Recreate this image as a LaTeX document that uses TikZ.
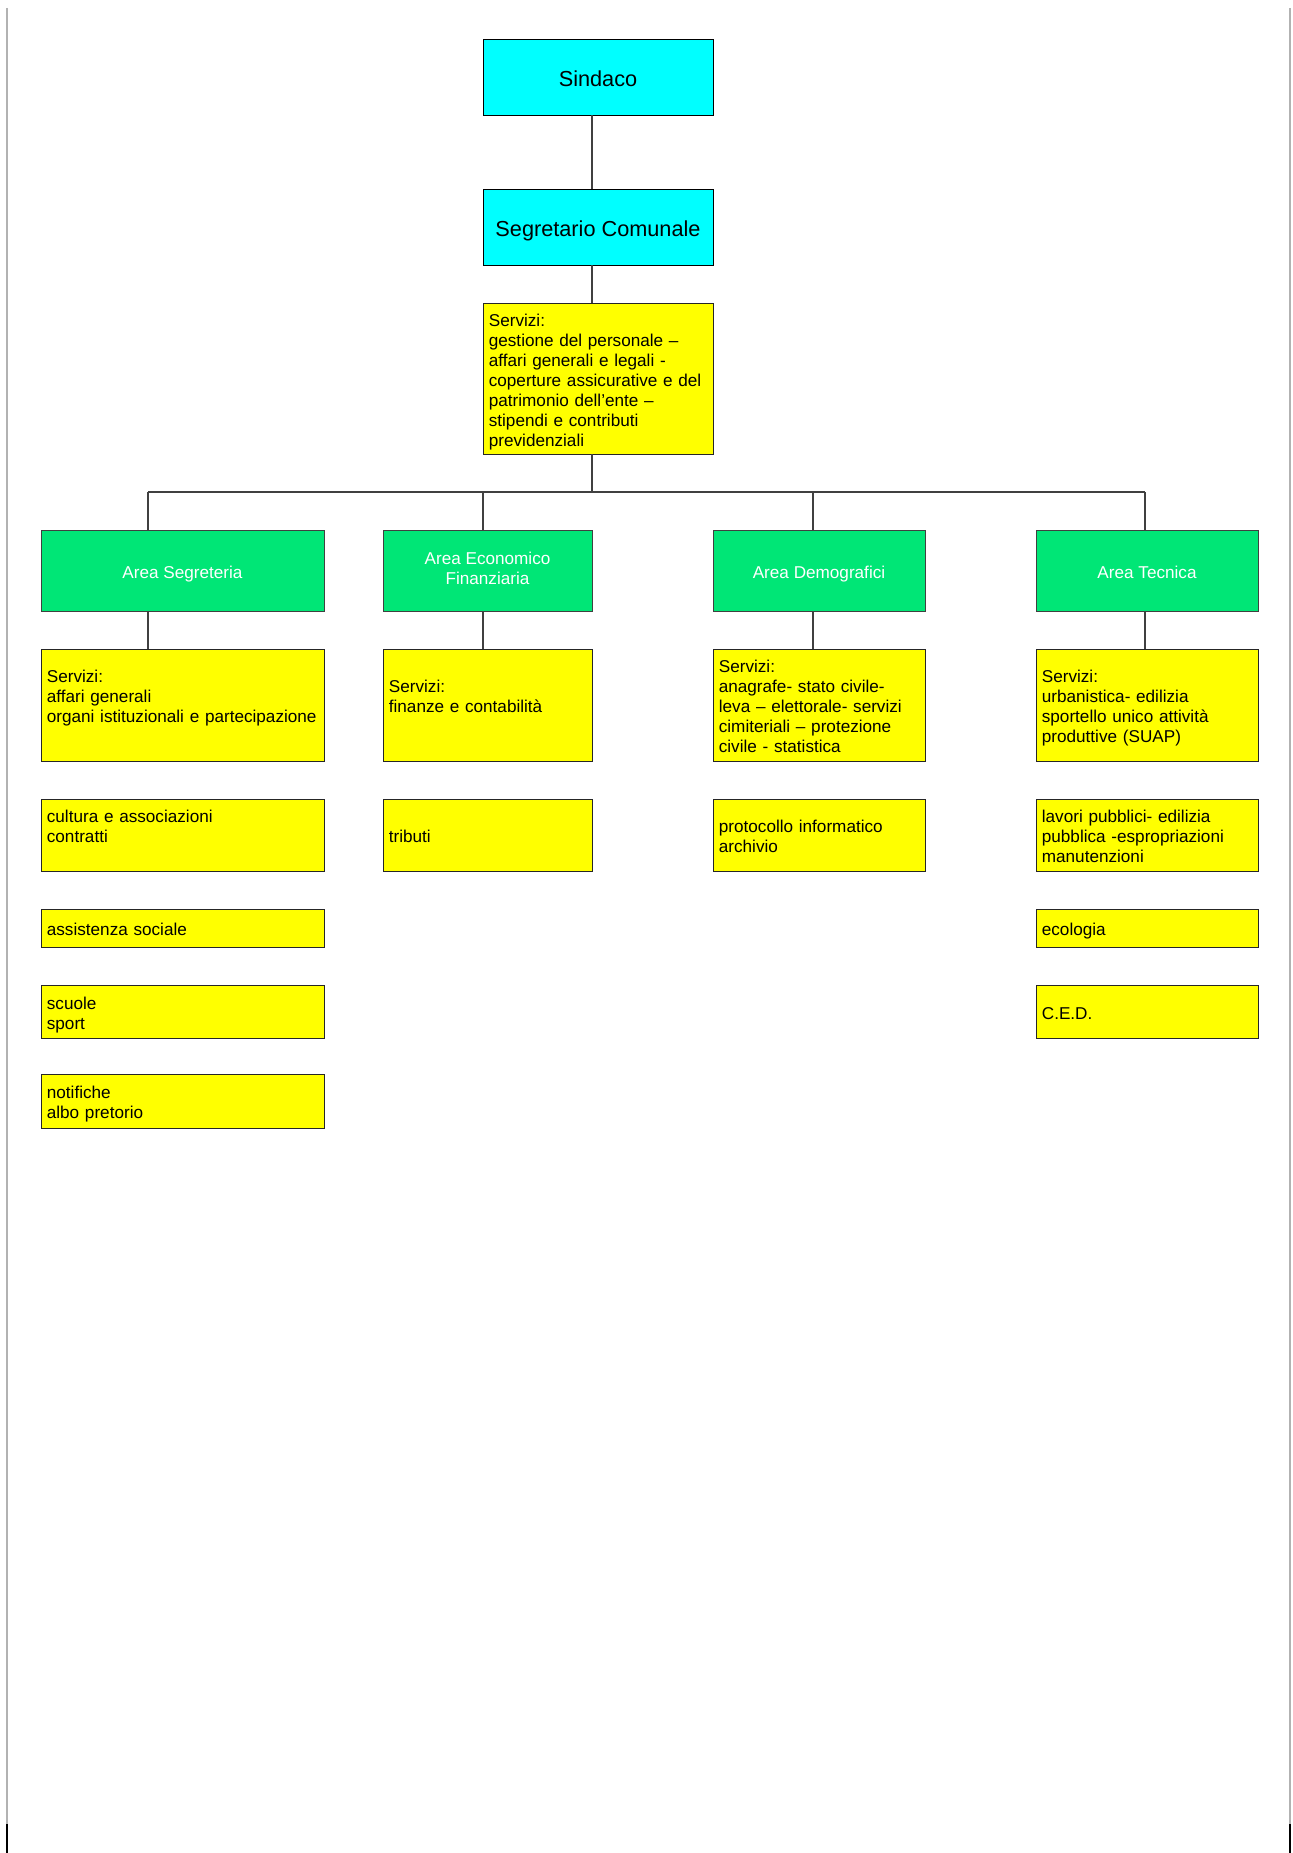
\documentclass[tikz,border=0pt]{standalone}
\usepackage{fontspec}
\setmainfont{Liberation Sans}
\usepackage{tikz}
\definecolor{ciano}{RGB}{0,255,255}
\definecolor{verde}{RGB}{0,230,118}
\definecolor{giallo}{RGB}{255,255,0}
\definecolor{linea}{RGB}{64,64,64}
\newcommand{\appoggiosu}{\rule{0pt}{1.105em}}
\newcommand{\appoggiogiu}{\rule[-0.212em]{0pt}{0pt}}

\begin{document}
\begin{tikzpicture}[x=0.4608pt,y=-0.4608pt,
  capo/.style={draw=black,fill=ciano,minimum width=106pt,minimum height=35pt,inner sep=0pt,font=\fontsize{10}{12}\selectfont,execute at begin node=\appoggiosu,execute at end node=\appoggiogiu},
  area/.style={draw=linea,fill=verde,text=white,align=center,minimum height=37.3pt,inner sep=0pt,font=\fontsize{7.9}{9.2}\selectfont,execute at begin node=\appoggiosu,execute at end node=\appoggiogiu},
  serv/.style={draw=black!85,fill=giallo,align=left,inner xsep=2.7pt,inner ysep=0pt,font=\fontsize{7.9}{9.2}\selectfont,execute at begin node=\appoggiosu,execute at end node=\appoggiogiu},
  conn/.style={draw=linea,line width=0.5pt}]
  \useasboundingbox (0,0) rectangle (1292,1853);
  %page edges
  \draw[gray!60,line width=0.5pt] (7,8) -- (7,1824);
  \draw[gray!60,line width=0.5pt] (1290,8) -- (1290,1824);
  \draw[line width=1pt] (7,1824) -- (7,1853);
  \draw[line width=1pt] (1290,1824) -- (1290,1853);
  %top
  \node[capo,name=sindaco,at={(598,77)}]{Sindaco};
  \node[capo,name=segr,at={(598,227)}]{Segretario Comunale};
  \node[serv,name=servgen,at={(598,378.5)},text width=100.6pt,minimum height=69.6pt]{Servizi:\\gestione del personale --\\affari generali e legali -\\coperture assicurative e del\\patrimonio dell'ente --\\stipendi e contributi\\previdenziali};
  %areas
  \node[area,name=seg,at={(182.5,570.5)},minimum width=130.4pt]{Area Segreteria};
  \node[area,name=eco,at={(487.5,570.5)},minimum width=96.3pt]{Area Economico\\Finanziaria};
  \node[area,name=dem,at={(819,570.5)},minimum width=97.7pt]{Area Demografici};
  \node[area,name=tec,at={(1147,570.5)},minimum width=102.3pt]{Area Tecnica};
  %segreteria
  \node[serv,name=seg1,at={(182.5,705)},text width=125pt,minimum height=51.6pt]{Servizi:\\affari generali\\organi istituzionali e partecipazione\\\mbox{}};
  \node[serv,name=seg2,at={(182.5,835)},text width=125pt,minimum height=33.2pt]{cultura e associazioni\\contratti\\\mbox{}};
  \node[serv,name=seg3,at={(182.5,928)},text width=125pt,minimum height=17.5pt]{assistenza sociale};
  \node[serv,name=seg4,at={(182.5,1011.5)},text width=125pt,minimum height=24.4pt]{scuole\\sport};
  \node[serv,name=seg5,at={(182.5,1101)},text width=125pt,minimum height=24.9pt]{notifiche\\albo pretorio};
  %economico finanziaria
  \node[serv,name=eco1,at={(487.5,705)},text width=90.9pt,minimum height=51.6pt]{Servizi:\\finanze e contabilità\\\mbox{}};
  \node[serv,name=eco2,at={(487.5,835)},text width=90.9pt,minimum height=33.2pt]{tributi};
  %demografici
  \node[serv,name=dem1,at={(819,705)},text width=92.3pt,minimum height=51.6pt]{Servizi:\\anagrafe- stato civile-\\leva -- elettorale- servizi\\cimiteriali -- protezione\\civile - statistica};
  \node[serv,name=dem2,at={(819,835)},text width=92.3pt,minimum height=33.2pt]{protocollo informatico\\archivio};
  %tecnica
  \node[serv,name=tec1,at={(1147,705)},text width=96.9pt,minimum height=51.6pt]{Servizi:\\urbanistica- edilizia\\sportello unico attività\\produttive (SUAP)};
  \node[serv,name=tec2,at={(1147,835)},text width=96.9pt,minimum height=33.2pt]{lavori pubblici- edilizia\\pubblica -espropriazioni\\manutenzioni};
  \node[serv,name=tec3,at={(1147,928)},text width=96.9pt,minimum height=17.5pt]{ecologia};
  \node[serv,name=tec4,at={(1147,1011.5)},text width=96.9pt,minimum height=24.4pt]{C.E.D.};
  %connectors
  \coordinate (spine) at (592,0);
  \coordinate (bus) at (0,492);
  \coordinate (dseg) at (148,0);
  \coordinate (deco) at (483,0);
  \coordinate (ddem) at (813,0);
  \coordinate (dtec) at (1145,0);
  \draw[conn] (spine |- sindaco.south) -- (spine |- segr.north);
  \draw[conn] (spine |- segr.south) -- (spine |- servgen.north);
  \draw[conn] (spine |- servgen.south) -- (spine |- bus);
  \draw[conn] (dseg |- bus) -- (dtec |- bus);
  \draw[conn] (dseg |- bus) -- (dseg |- seg.north);
  \draw[conn] (deco |- bus) -- (deco |- eco.north);
  \draw[conn] (ddem |- bus) -- (ddem |- dem.north);
  \draw[conn] (dtec |- bus) -- (dtec |- tec.north);
  \draw[conn] (dseg |- seg.south) -- (dseg |- seg1.north);
  \draw[conn] (deco |- eco.south) -- (deco |- eco1.north);
  \draw[conn] (ddem |- dem.south) -- (ddem |- dem1.north);
  \draw[conn] (dtec |- tec.south) -- (dtec |- tec1.north);
\end{tikzpicture}
\end{document}
